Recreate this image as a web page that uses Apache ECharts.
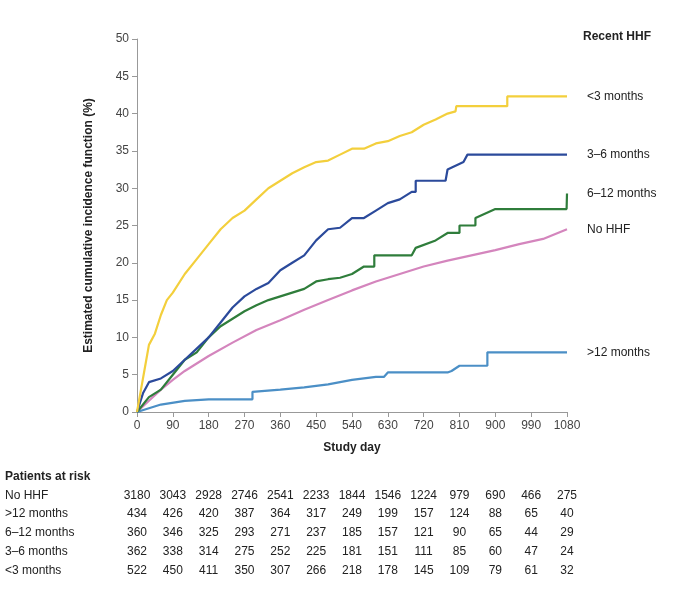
<!DOCTYPE html>
<html lang="en" style="height: 100%">
<head>
  <meta charset="utf-8">
</head>
<body style="height: 100%; margin: 0; background: #fff">
  <div id="container" style="width: 680px; height: 591px"></div>
  <script type="text/javascript" src="https://cdn.jsdelivr.net/npm/echarts@6/dist/echarts.min.js"></script>
  <script type="text/javascript">
    // [day, %]
    const lt3 = [[0,0],[10,3],[20,6],[30,9],[45,10.5],[60,13],[75,15],[90,16],[120,18.5],[150,20.5],[180,22.5],[210,24.5],[240,26],[270,27],[300,28.5],[330,30],[360,31],[390,32],[420,32.8],[450,33.5],[480,33.7],[510,34.5],[540,35.3],[570,35.3],[600,36],[630,36.3],[660,37],[690,37.5],[720,38.5],[750,39.2],[780,40],[800,40.3],[802,41],[930,41],[930,42.3],[1080,42.3]];
    const m3to6 = [[0,0],[15,2.5],[30,4],[60,4.5],[90,5.5],[120,7],[150,8.5],[180,10],[210,12],[240,14],[270,15.5],[300,16.5],[330,17.3],[360,19],[390,20],[420,21],[450,23],[480,24.5],[510,24.7],[540,26],[570,26],[600,27],[630,28],[660,28.5],[690,29.5],[700,29.5],[700,31],[775,31],[780,32.5],[800,33],[820,33.5],[830,34.5],[1080,34.5]];
    const m6to12 = [[0,0],[30,2],[60,3],[90,5],[120,7],[150,8],[180,10],[210,11.5],[240,12.5],[270,13.5],[300,14.3],[330,15],[360,15.5],[390,16],[420,16.5],[450,17.5],[480,17.8],[510,18],[540,18.5],[570,19.5],[596,19.5],[596,21],[690,21],[700,22],[750,23],[780,24],[810,24],[810,25],[850,25],[850,26],[900,27.2],[1079,27.2],[1080,29.3]];
    const noHHF = [[0,0],[30,1.5],[60,3],[90,4.3],[120,5.5],[180,7.5],[240,9.3],[300,11],[360,12.3],[420,13.7],[480,15],[540,16.3],[600,17.5],[660,18.5],[720,19.5],[780,20.3],[840,21],[900,21.7],[960,22.5],[1020,23.2],[1080,24.5]];
    const gt12 = [[0,0],[30,0.5],[60,1],[120,1.5],[180,1.7],[290,1.7],[290,2.7],[360,3],[420,3.3],[480,3.7],[540,4.3],[600,4.7],[620,4.7],[630,5.3],[780,5.3],[790,5.5],[810,6.2],[880,6.2],[880,8],[1080,8]];

    const riskDays = [0,90,180,270,360,450,540,630,720,810,900,990,1080];
    const riskRows = ['No HHF','>12 months','6–12 months','3–6 months','<3 months'];
    const riskNoHHF = [3180,3043,2928,2746,2541,2233,1844,1546,1224,979,690,466,275];
    const riskGt12 = [434,426,420,387,364,317,249,199,157,124,88,65,40];
    const risk6to12 = [360,346,325,293,271,237,185,157,121,90,65,44,29];
    const risk3to6 = [362,338,314,275,252,225,181,151,111,85,60,47,24];
    const riskLt3 = [522,450,411,350,307,266,218,178,145,109,79,61,32];
    const riskValues = [riskNoHHF, riskGt12, risk6to12, risk3to6, riskLt3];

    const font = 'Liberation Sans, Arial, sans-serif';
    const chart = echarts.init(document.getElementById('container'));

    function line(name, data, color) {
      return {
        name, type: 'line', data, symbol: 'none',
        lineStyle: { color, width: 2.2 }, itemStyle: { color },
        endLabel: { show: true, formatter: name, color: '#222', fontSize: 12, fontFamily: font, offset: [12, 0] },
        z: 3
      };
    }

    chart.setOption({
      animation: false,
      textStyle: { fontFamily: font },
      grid: { left: 137, right: 113, top: 39, bottom: 179 },
      xAxis: {
        type: 'value', min: 0, max: 1080, interval: 90,
        name: 'Study day', nameLocation: 'middle', nameGap: 30,
        nameTextStyle: { fontWeight: 'bold', color: '#222', fontSize: 12 },
        axisLine: { lineStyle: { color: '#999' } },
        axisTick: { lineStyle: { color: '#999' }, length: 5 },
        axisLabel: { color: '#444', fontSize: 12, formatter: v => String(v) },
        splitLine: { show: false }
      },
      yAxis: {
        type: 'value', min: 0, max: 50, interval: 5,
        name: 'Estimated cumulative incidence function (%)', nameLocation: 'middle', nameGap: 42,
        nameTextStyle: { fontWeight: 'bold', color: '#222', fontSize: 12 },
        axisLine: { show: true, lineStyle: { color: '#999' } },
        axisTick: { show: true, lineStyle: { color: '#999' }, length: 5 },
        axisLabel: { color: '#444', fontSize: 12 },
        splitLine: { show: false }
      },
      series: [
        line('No HHF', noHHF, '#d485bd'),
        line('>12 months', gt12, '#4b8fc6'),
        line('6–12 months', m6to12, '#2f7d3b'),
        line('3–6 months', m3to6, '#2b4a9b'),
        line('<3 months', lt3, '#f3cf3c')
      ]
    });

    const g = [
      { type: 'text', left: 583, top: 31, style: { text: 'Recent HHF', font: 'bold 12px ' + font, fill: '#222' } },
      { type: 'text', left: 5, top: 471, style: { text: 'Patients at risk', font: 'bold 12px ' + font, fill: '#222' } }
    ];
    const rowY = [496, 514, 533, 552, 571];
    riskRows.forEach((r, i) => {
      g.push({ type: 'text', x: 5, y: rowY[i], style: { text: r, font: '12px ' + font, fill: '#222', verticalAlign: 'middle' } });
      riskDays.forEach((d, j) => {
        const px = chart.convertToPixel({ xAxisIndex: 0 }, d);
        g.push({ type: 'text', x: px, y: rowY[i], style: { text: String(riskValues[i][j]), font: '12px ' + font, fill: '#222', align: 'center', verticalAlign: 'middle' } });
      });
    });
    chart.setOption({ graphic: g });
  </script>
</body>
</html>
